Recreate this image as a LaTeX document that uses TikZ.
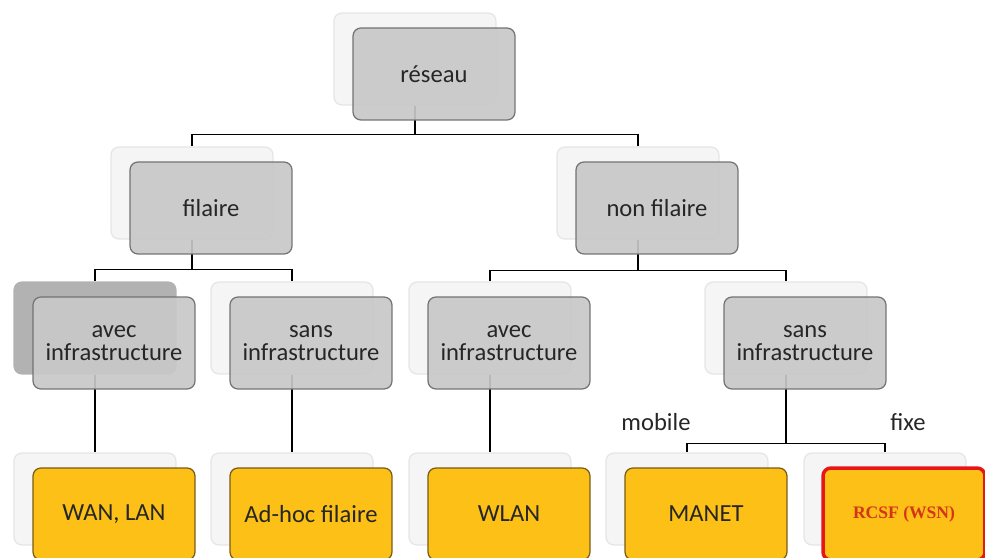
\documentclass[tikz,border=0pt]{standalone}
\usepackage{fontspec}
\setmainfont{Carlito}
\newfontfamily\tnrfont{Liberation Serif}
\definecolor{boxgray}{RGB}{200,200,200}
\definecolor{gold}{RGB}{252,192,22}
\definecolor{goldline}{RGB}{120,92,20}
\definecolor{wsnred}{RGB}{228,22,22}
\definecolor{wsntext}{RGB}{212,52,24}
\tikzset{
	back/.style={draw=black!10,fill=black!4,rounded corners=4.5pt,minimum width=3.24cm,minimum height=1.84cm,inner sep=0pt},
	front/.style={draw=black!55,fill=boxgray,fill opacity=0.92,text opacity=1,rounded corners=4.5pt,minimum width=3.24cm,minimum height=1.84cm,inner sep=0pt,align=center,text=black!85,font=\fontsize{14}{13.5}\selectfont},
	leaf/.style={front,draw=goldline,fill=gold,fill opacity=1}
}
\begin{document}
\begin{tikzpicture}[x=0.02cm,y=-0.02cm,line width=0.7pt]
				\useasboundingbox (0,0) rectangle (985,558);
				% back boxes
				\node[back] (reseau) at (415,59) {};
				\node[back] (filaire) at (192,193) {};
				\node[back] (nonfil) at (638,193) {};
				\node[back,fill=black!30,draw=black!30] (avecF) at (95,328) {};
				\node[back] (sansF) at (292,328) {};
				\node[back] (avecNF) at (490,328) {};
				\node[back] (sansNF) at (786,328) {};
				\node[back] (wanlan) at (95,499) {};
				\node[back] (adhoc) at (292,499) {};
				\node[back] (wlan) at (490,499) {};
				\node[back] (manet) at (687,499) {};
				\node[back] (rcsf) at (885,499) {};
				% connectors
				\draw (reseau.south) -- ++(0,29) -| (filaire.north);
				\draw (reseau.south) ++(0,29) -| (nonfil.north);
				\draw (filaire.south) -- ++(0,30) -| (avecF.north);
				\draw (filaire.south) ++(0,30) -| (sansF.north);
				\draw (nonfil.south) -- ++(0,31) -| (avecNF.north);
				\draw (nonfil.south) ++(0,31) -| (sansNF.north);
				\draw (avecF.south) -- (wanlan.north);
				\draw (sansF.south) -- (adhoc.north);
				\draw (avecNF.south) -- (wlan.north);
				\draw (sansNF.south) -- ++(0,69) -| (manet.north);
				\draw (sansNF.south) ++(0,69) -| (rcsf.north);
				% front boxes
				\node[front] (reseauT) at ([shift={(19,15)}]reseau) {réseau};
				\node[front] (filaireT) at ([shift={(19,15)}]filaire) {filaire};
				\node[front] (nonfilT) at ([shift={(19,15)}]nonfil) {non filaire};
				\node[front] (avecFT) at ([shift={(19,15)}]avecF) {avec\\infrastructure};
				\node[front] (sansFT) at ([shift={(19,15)}]sansF) {sans\\infrastructure};
				\node[front] (avecNFT) at ([shift={(19,15)}]avecNF) {avec\\infrastructure};
				\node[front] (sansNFT) at ([shift={(19,15)}]sansNF) {sans\\infrastructure};
				\node[leaf] (wanlanT) at ([shift={(19,15)}]wanlan) {WAN, LAN};
				\node[leaf] (adhocT) at ([shift={(19,15)}]adhoc) {Ad-hoc filaire};
				\node[leaf] (wlanT) at ([shift={(19,15)}]wlan) {WLAN};
				\node[leaf] (manetT) at ([shift={(19,15)}]manet) {MANET};
				\node[leaf,draw=wsnred,line width=2pt,text=wsntext,font=\tnrfont\bfseries\fontsize{10}{12}\selectfont] (rcsfT) at ([shift={(19,15)}]rcsf) {RCSF (WSN)};
				% labels
				\node[font=\fontsize{14}{16}\selectfont,text=black!85] (mob) at (656,422) {mobile};
				\node[font=\fontsize{14}{16}\selectfont,text=black!85] (fix) at (908,422) {fixe};
			\end{tikzpicture}
\end{document}
